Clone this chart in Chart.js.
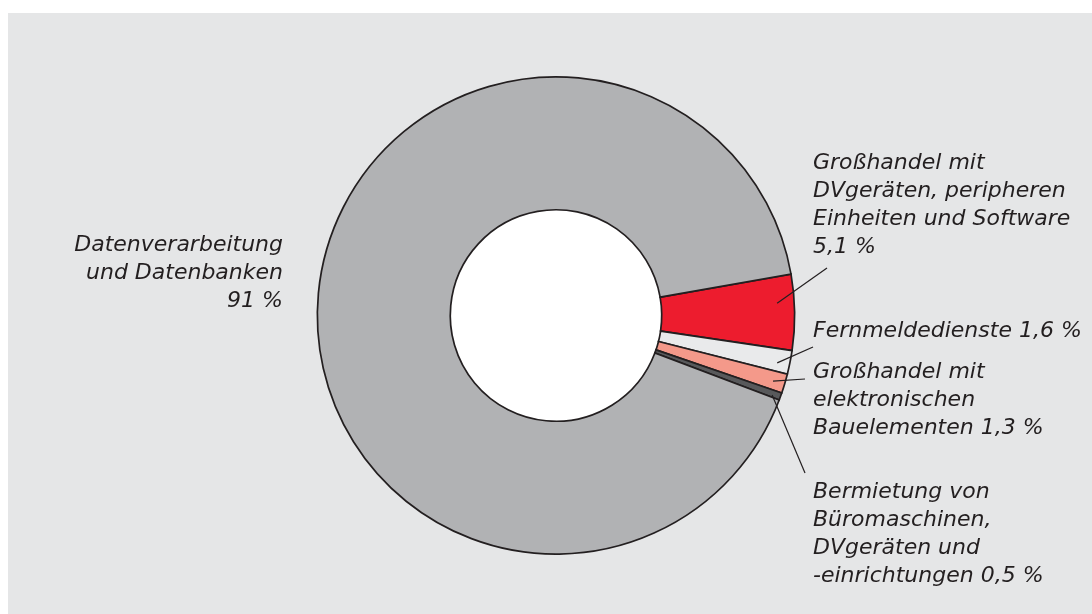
<!DOCTYPE html>
<html>
<head>
<meta charset="utf-8">
<script src="https://cdn.jsdelivr.net/npm/chart.js@4"></script>
<style>
  html, body { margin: 0; padding: 0; background: #ffffff; }
  #wrap { position: relative; width: 1092px; height: 614px; }
  #bg { position: absolute; left: 8px; top: 13px; right: 0; bottom: 0; background: #e5e6e7; }
  canvas { position: absolute; left: 0; top: 0; }
</style>
</head>
<body>
<div id="wrap">
  <div id="bg"></div>
  <canvas id="myChart" width="1092" height="614"></canvas>
</div>
<script>
/* Daten */
const labels = [
  "Großhandel mit DVgeräten, peripheren Einheiten und Software",
  "Fernmeldedienste",
  "Großhandel mit elektronischen Bauelementen",
  "Bermietung von Büromaschinen, DVgeräten und -einrichtungen",
  "Datenverarbeitung und Datenbanken"
];
const values = [5.1, 1.6, 1.3, 0.5, 91];
const colors = ["#ed1c2e", "#e9eaeb", "#f4998a", "#58595b", "#b1b2b4"];

// Beschriftungen (Zeilen, Position, Ausrichtung)
const labelLines = [
  ["Großhandel mit", "DVgeräten, peripheren", "Einheiten und Software", "5,1 %"],
  ["Fernmeldedienste 1,6 %"],
  ["Großhandel mit", "elektronischen", "Bauelementen 1,3 %"],
  ["Bermietung von", "Büromaschinen,", "DVgeräten und", "-einrichtungen 0,5 %"],
  ["Datenverarbeitung", "und Datenbanken", "91 %"]
];
const labelPos = [[813, 163, 'left'], [813, 331, 'left'], [813, 372, 'left'], [813, 492, 'left'], [283, 245, 'right']];
// Hinweislinien: t = Anteil im Bogen, r = Anteil vom Radius, Endpunkt
const leaders = [
  {t: 0.37, r: 0.928, end: [827, 268]},
  {t: 0.63, r: 0.948, end: [813, 347]},
  {t: 0.55, r: 0.95, end: [805, 379]},
  {t: 0.7, r: 0.965, end: [805, 473]},
  null
];

const labelPlugin = {
  id: 'labelPlugin',
  beforeDatasetsDraw(chart) {
    // weißes Loch in der Mitte
    const arc = chart.getDatasetMeta(0).data[0];
    if (!arc) return;
    const p = arc.getProps(['x', 'y', 'innerRadius'], true);
    const ctx = chart.ctx;
    ctx.save();
    ctx.fillStyle = '#ffffff';
    ctx.beginPath();
    ctx.arc(p.x, p.y, p.innerRadius, 0, Math.PI * 2);
    ctx.fill();
    ctx.restore();
  },
  afterDraw(chart) {
    const ctx = chart.ctx;
    const arcs = chart.getDatasetMeta(0).data;
    ctx.save();
    ctx.strokeStyle = '#231f20';
    ctx.lineWidth = 1.2;
    arcs.forEach((arc, i) => {
      const ld = leaders[i];
      if (!ld) return;
      const p = arc.getProps(['x', 'y', 'startAngle', 'endAngle', 'outerRadius'], true);
      const a = p.startAngle + (p.endAngle - p.startAngle) * ld.t;
      const rr = p.outerRadius * ld.r;
      ctx.beginPath();
      ctx.moveTo(p.x + Math.cos(a) * rr, p.y + Math.sin(a) * rr);
      ctx.lineTo(ld.end[0], ld.end[1]);
      ctx.stroke();
    });
    ctx.fillStyle = '#231f20';
    ctx.font = 'italic 22px "DejaVu Sans", sans-serif';
    ctx.textBaseline = 'middle';
    labelLines.forEach((lines, i) => {
      const [x, y, align] = labelPos[i];
      ctx.textAlign = align;
      lines.forEach((line, j) => {
        ctx.fillText(line, x, y + j * 28);
      });
    });
    ctx.restore();
  }
};

new Chart(document.getElementById('myChart'), {
  type: 'doughnut',
  data: {
    labels: labels,
    datasets: [{
      data: values,
      backgroundColor: colors,
      borderColor: '#231f20',
      borderWidth: 1.7,
      borderJoinStyle: 'miter'
    }]
  },
  options: {
    responsive: false,
    animation: false,
    cutout: '44.3%',
    rotation: 80,
    layout: {
      padding: {top: 76, bottom: 59, left: 20, right: 0}
    },
    plugins: {
      legend: { display: false },
      tooltip: { enabled: false }
    }
  },
  plugins: [labelPlugin]
});
</script>
</body>
</html>
